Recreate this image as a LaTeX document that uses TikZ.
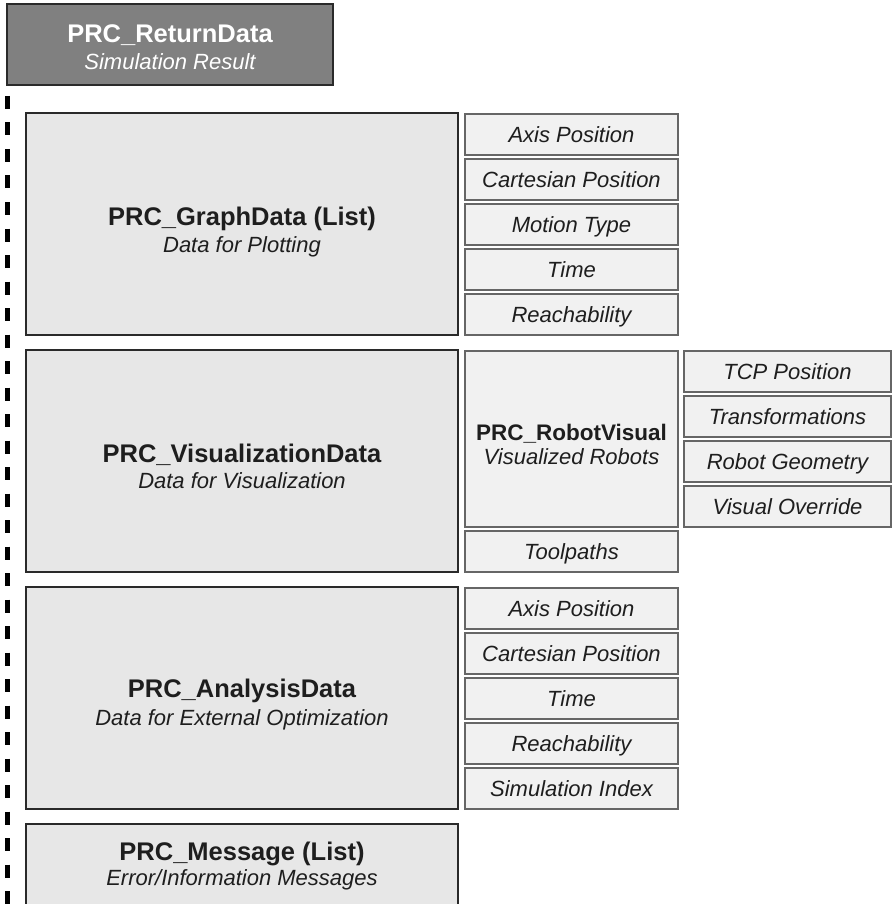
\documentclass[tikz,border=0pt]{standalone}
\usepackage{fontspec}
\setmainfont{Liberation Sans}
\usetikzlibrary{calc}

\definecolor{darkfill}{HTML}{808080}
\definecolor{bigfill}{HTML}{E7E7E7}
\definecolor{smallfill}{HTML}{F1F1F1}
\definecolor{edgedark}{HTML}{2A2A2A}
\definecolor{edgelight}{HTML}{666666}
\definecolor{ink}{HTML}{1E1E1E}

\newcommand\bigtitlefont{\fontsize{25.5}{28}\bfseries\selectfont}
\newcommand\bigsubfont{\fontsize{22}{26}\itshape\selectfont}
\newcommand\smalltitlefont{\fontsize{22.5}{26}\bfseries\selectfont}
\newcommand\itemfont{\fontsize{22}{26}\itshape\selectfont}

\tikzset{
  x=1pt, y=-1pt,
  topbox/.style={draw=edgedark, line width=2.4pt, fill=darkfill, inner sep=0pt},
  bigbox/.style={draw=edgedark, line width=2.4pt, fill=bigfill, inner sep=0pt,
    minimum width=432, minimum height=222},
  robotbox/.style={draw=edgelight, line width=1.3pt, fill=smallfill, inner sep=0pt},
  itembox/.style={draw=edgelight, line width=1.3pt, fill=smallfill, inner sep=0pt,
    minimum height=41, text=ink, font=\itemfont, text height=15.8pt, text depth=0pt},
  colA/.style={itembox, minimum width=213},
  colB/.style={itembox, minimum width=207},
  titletext/.style={anchor=base, inner sep=0pt, text=ink, font=\bigtitlefont},
  subtext/.style={anchor=base, inner sep=0pt, text=ink, font=\bigsubfont},
  hierline/.style={draw=black, line width=5pt, dash pattern=on 13pt off 13.5pt},
}

\begin{document}
\begin{tikzpicture}
\useasboundingbox (0,0) rectangle (892,904);

% hierarchy line running down the left edge
\coordinate (lineTop) at (7.5,96);
\coordinate (lineEnd) at (7.5,910);
\draw[hierline] (lineTop) -- (lineEnd);

% root object
\node[topbox, minimum width=326, minimum height=81] (ret) at (170,44.5) {};
\node[titletext, text=white] (retT) at (170,43) {PRC\_ReturnData};
\node[subtext, text=white] (retS) at (170,70) {Simulation Result};

% graph data
\node[bigbox] (gd) at (242,224) {};
\node[titletext] (gdT) at (242,225) {PRC\_GraphData (List)};
\node[subtext] (gdS) at (242,252.7) {Data for Plotting};
\node[colA] (gd1) at (571.5,134.5) {Axis Position};
\node[colA] (gd2) at (571.5,179.5) {Cartesian Position};
\node[colA] (gd3) at (571.5,224.5) {Motion Type};
\node[colA] (gd4) at (571.5,269.5) {Time};
\node[colA] (gd5) at (571.5,314.5) {Reachability};

% visualization data
\node[bigbox] (vd) at (242,461) {};
\node[titletext] (vdT) at (242,462) {PRC\_VisualizationData};
\node[subtext] (vdS) at (242,488.5) {Data for Visualization};
\node[robotbox, minimum width=213, minimum height=176] (rv) at (571.5,439) {};
\node[anchor=base, inner sep=0pt, text=ink, font=\smalltitlefont] (rvT) at (571.5,440) {PRC\_RobotVisual};
\node[anchor=base, inner sep=0pt, text=ink, font=\bigsubfont] (rvS) at (571.5,464) {Visualized Robots};
\node[colA] (tp) at (571.5,551.5) {Toolpaths};
\node[colB] (rv1) at (787.5,371.5) {TCP Position};
\node[colB] (rv2) at (787.5,416.5) {Transformations};
\node[colB] (rv3) at (787.5,461.5) {Robot Geometry};
\node[colB] (rv4) at (787.5,506.5) {Visual Override};

% analysis data
\node[bigbox] (ad) at (242,698) {};
\node[titletext] (adT) at (242,697.5) {PRC\_AnalysisData};
\node[subtext] (adS) at (242,725) {Data for External Optimization};
\node[colA] (ad1) at (571.5,608.5) {Axis Position};
\node[colA] (ad2) at (571.5,653.5) {Cartesian Position};
\node[colA] (ad3) at (571.5,698.5) {Time};
\node[colA] (ad4) at (571.5,743.5) {Reachability};
\node[colA] (ad5) at (571.5,788.5) {Simulation Index};

% messages
\node[bigbox, minimum height=84] (msg) at (242,866) {};
\node[titletext] (msgT) at (242,860) {PRC\_Message (List)};
\node[subtext] (msgS) at (242,885.5) {Error/Information Messages};
\end{tikzpicture}
\end{document}
